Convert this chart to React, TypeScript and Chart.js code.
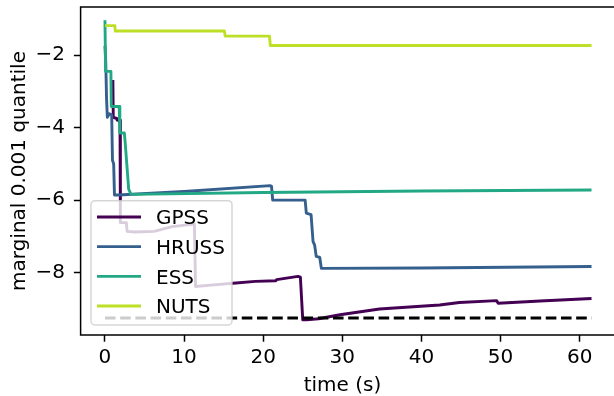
import React, { useEffect, useRef } from 'react';
import { Chart, registerables } from 'chart.js';

Chart.register(...registerables);

// ---- data ----
const seriesLabels = ['GPSS', 'HRUSS', 'ESS', 'NUTS'];
const seriesColors = ['#440154', '#355f8d', '#22a884', '#bddf26'];

const gpssTime = [1.0, 1.05, 1.5, 1.55, 1.9, 1.95, 2.7, 2.8, 3.8, 6.2, 8.5, 11.3, 11.45, 13.0, 16.2, 19.0, 21.6, 21.7, 24.4, 24.7, 25.0, 25.5, 27.0, 29.7, 34.7, 42.3, 44.8, 49.5, 49.7, 55.0, 61.5];
const gpssValue = [-2.69, -3.72, -3.75, -3.8, -3.8, -6.62, -6.62, -6.86, -6.88, -6.86, -6.73, -6.66, -8.38, -8.35, -8.29, -8.24, -8.22, -8.19, -8.1, -8.12, -9.3, -9.3, -9.27, -9.16, -9.0, -8.89, -8.82, -8.77, -8.84, -8.78, -8.71];

const hrussTime = [0, 0.1, 0.2, 0.3, 0.55, 0.85, 0.95, 1.1, 1.2, 1.7, 10.0, 20.9, 21.05, 21.2, 25.3, 25.45, 26.05, 26.3, 26.5, 26.7, 27.15, 27.35, 40.0, 61.5];
const hrussValue = [-1.75, -2.2, -3.2, -3.72, -3.62, -3.65, -4.9, -5.0, -5.86, -5.86, -5.76, -5.6, -5.62, -6.0, -6.0, -6.36, -6.4, -7.14, -7.24, -7.55, -7.58, -7.88, -7.87, -7.83];

const essTime = [0, 0.08, 0.75, 0.8, 1.8, 1.88, 2.45, 2.55, 3.0, 3.3, 20.0, 40.0, 61.5];
const essValue = [-1.04, -2.45, -2.45, -3.42, -3.42, -4.15, -4.15, -4.4, -5.7, -5.84, -5.79, -5.75, -5.72];

const nutsTime = [0, 1.25, 1.3, 15.1, 15.2, 20.8, 20.9, 61.5];
const nutsValue = [-1.19, -1.19, -1.34, -1.34, -1.48, -1.48, -1.74, -1.74];

const refTime = [0, 61.5];
const refValue = [-9.25, -9.25];

const xTicks = [0, 10, 20, 30, 40, 50, 60];
const yTicks = [-8, -6, -4, -2];
const xTitle = 'time (s)';
const yTitle = 'marginal 0.001 quantile';

const FONT = 'DejaVu Sans';
const FS = 20;

const toPoints = (t: number[], v: number[]) => t.map((x, i) => ({ x, y: v[i] }));
const fmt = (v: number) => (v < 0 ? '\u2212' : '') + Math.abs(v);

export default function App() {
  const ref = useRef<HTMLCanvasElement | null>(null);

  useEffect(() => {
    if (!ref.current) return;
    const times = [gpssTime, hrussTime, essTime, nutsTime];
    const values = [gpssValue, hrussValue, essValue, nutsValue];

    const datasets: any[] = seriesLabels.map((label, i) => ({
      label,
      data: toPoints(times[i], values[i]),
      borderColor: seriesColors[i],
      borderWidth: 2.9,
      pointRadius: 0,
      tension: 0,
      fill: false,
      borderJoinStyle: 'round',
      borderCapStyle: 'butt',
      order: 4 - i,
    }));
    datasets.push({
      label: '',
      data: toPoints(refTime, refValue),
      borderColor: '#000',
      borderWidth: 2.9,
      borderDash: [10.6, 4.6],
      pointRadius: 0,
      tension: 0,
      fill: false,
      order: 0,
    });

    const decor = {
      id: 'decor',
      afterDatasetsDraw(chart: any) {
        const ctx = chart.ctx as CanvasRenderingContext2D;
        const a = chart.chartArea;
        ctx.save();
        // frame
        ctx.strokeStyle = '#000';
        ctx.lineWidth = 1.5;
        ctx.strokeRect(a.left, a.top, a.right - a.left, a.bottom - a.top);

        // legend
        const bx = 91, by = 200.7, bw = 141, bh = 124.3, r = 4;
        ctx.beginPath();
        ctx.moveTo(bx + r, by);
        ctx.lineTo(bx + bw - r, by);
        ctx.arcTo(bx + bw, by, bx + bw, by + r, r);
        ctx.lineTo(bx + bw, by + bh - r);
        ctx.arcTo(bx + bw, by + bh, bx + bw - r, by + bh, r);
        ctx.lineTo(bx + r, by + bh);
        ctx.arcTo(bx, by + bh, bx, by + bh - r, r);
        ctx.lineTo(bx, by + r);
        ctx.arcTo(bx, by, bx + r, by, r);
        ctx.closePath();
        ctx.fillStyle = 'rgba(255,255,255,0.8)';
        ctx.fill();
        ctx.strokeStyle = 'rgba(204,204,204,0.8)';
        ctx.lineWidth = 1.5;
        ctx.stroke();

        ctx.font = `${FS}px "${FONT}"`;
        ctx.textAlign = 'left';
        ctx.textBaseline = 'alphabetic';
        seriesLabels.forEach((label, i) => {
          const y = 217 + i * 29.67;
          ctx.beginPath();
          ctx.strokeStyle = seriesColors[i];
          ctx.lineWidth = 2.9;
          ctx.lineCap = 'butt';
          ctx.moveTo(97, y);
          ctx.lineTo(141, y);
          ctx.stroke();
          ctx.fillStyle = '#000';
          ctx.fillText(label, 156, y + 7.2);
        });

        // axis titles
        ctx.fillStyle = '#000';
        ctx.textAlign = 'center';
        ctx.textBaseline = 'alphabetic';
        ctx.fillText(xTitle, 342.5, 391);
        ctx.save();
        ctx.translate(20, (a.top + a.bottom) / 2);
        ctx.rotate(-Math.PI / 2);
        ctx.textBaseline = 'middle';
        ctx.fillText(yTitle, 0, 0);
        ctx.restore();
        ctx.restore();
      },
    };

    const noPadX = (s: any) => {
      s.height = 396 - 335;
      s.paddingLeft = 0; s.paddingRight = 0; s.paddingTop = 0; s.paddingBottom = 0;
    };
    const noPadY = (s: any) => {
      s.width = 80.6;
      s.paddingLeft = 0; s.paddingRight = 0; s.paddingTop = 0; s.paddingBottom = 0;
    };

    const chart = new Chart(ref.current, {
      type: 'line',
      data: { datasets },
      plugins: [decor],
      options: {
        animation: false,
        responsive: false,
        devicePixelRatio: 1,
        layout: { padding: { left: 0, top: 7, right: 630 - 616.3, bottom: 0 } },
        plugins: { legend: { display: false }, tooltip: { enabled: false } },
        scales: {
          x: {
            type: 'linear',
            min: -3.08,
            max: 64.63,
            afterBuildTicks: (s: any) => { s.ticks = xTicks.map((v) => ({ value: v })); },
            afterFit: noPadX,
            border: { display: false },
            grid: { display: true, drawOnChartArea: false, drawTicks: true, tickLength: 6.7, tickColor: '#000', tickWidth: 1.5 },
            ticks: { color: '#000', font: { family: FONT, size: FS }, padding: 4, maxRotation: 0, autoSkip: false, callback: (v: any) => fmt(Number(v)) },
          },
          y: {
            type: 'linear',
            min: -9.717,
            max: -0.677,
            afterBuildTicks: (s: any) => { s.ticks = yTicks.map((v) => ({ value: v })); },
            afterFit: noPadY,
            border: { display: false },
            grid: { display: true, drawOnChartArea: false, drawTicks: true, tickLength: 6.7, tickColor: '#000', tickWidth: 1.5 },
            ticks: { color: '#000', font: { family: FONT, size: FS }, padding: 9, autoSkip: false, callback: (v: any) => fmt(Number(v)) },
          },
        },
      } as any,
    });
    return () => chart.destroy();
  }, []);

  return (
    <div style={{ position: 'absolute', left: 0, top: 0, width: 614, height: 396, overflow: 'hidden', background: '#fff' }}>
      <canvas ref={ref} width={630} height={396} style={{ display: 'block' }} />
    </div>
  );
}
